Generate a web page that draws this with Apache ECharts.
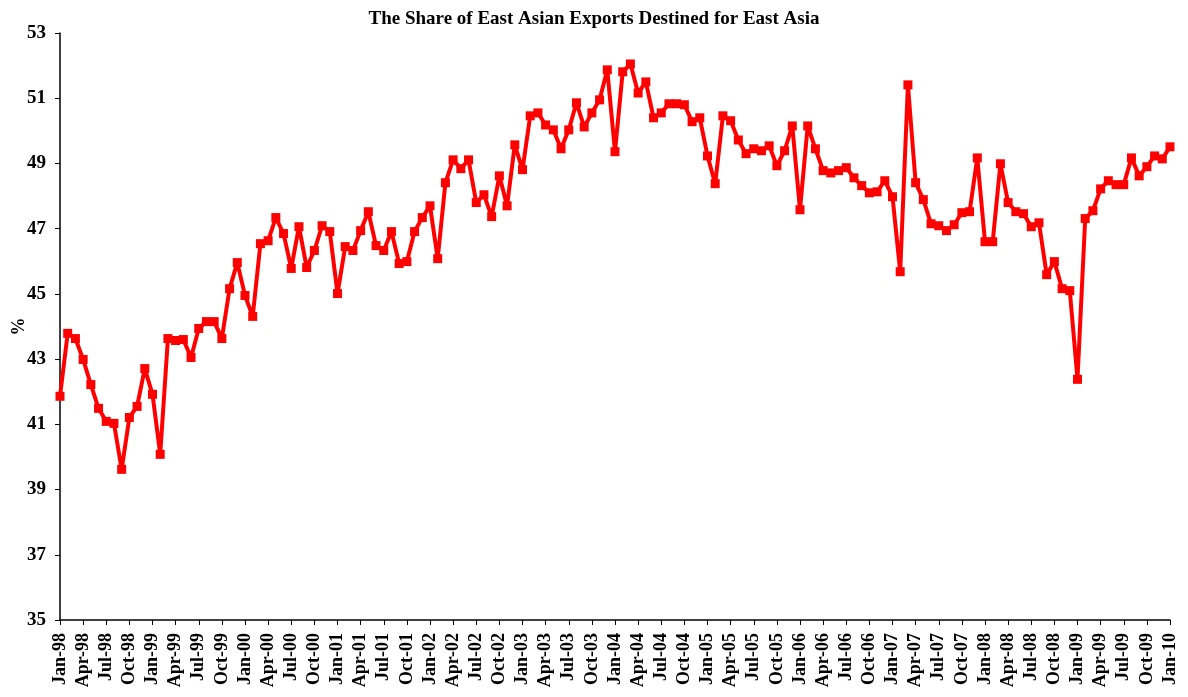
<!DOCTYPE html>
<html>
<head>
<meta charset="utf-8">
<script src="https://cdn.jsdelivr.net/npm/echarts@6/dist/echarts.min.js"></script>
<style>
  html, body { margin: 0; padding: 0; background: #fff; }
  #chart { width: 1188px; height: 697px; }
</style>
</head>
<body>
<div id="chart"></div>
<script>
// monthly values, Jan-98 .. Jan-10 (share in %)
var months = ['Jan','Feb','Mar','Apr','May','Jun','Jul','Aug','Sep','Oct','Nov','Dec'];
var startYear = 1998;

var v1998 = [41.86, 43.79, 43.63, 42.99, 42.22, 41.49, 41.09, 41.03, 39.62, 41.21, 41.55, 42.71];
var v1999 = [41.92, 40.08, 43.63, 43.57, 43.60, 43.05, 43.94, 44.15, 44.15, 43.63, 45.16, 45.96];
var v2000 = [44.95, 44.31, 46.54, 46.63, 47.34, 46.85, 45.78, 47.06, 45.81, 46.33, 47.09, 46.91];
var v2001 = [45.01, 46.45, 46.33, 46.94, 47.52, 46.48, 46.33, 46.91, 45.93, 45.99, 46.91, 47.34];
var v2002 = [47.70, 46.08, 48.41, 49.11, 48.84, 49.11, 47.80, 48.04, 47.37, 48.62, 47.70, 49.57];
var v2003 = [48.81, 50.46, 50.55, 50.18, 50.03, 49.45, 50.03, 50.86, 50.12, 50.55, 50.95, 51.87];
var v2004 = [49.36, 51.81, 52.05, 51.16, 51.50, 50.40, 50.55, 50.83, 50.83, 50.80, 50.28, 50.40];
var v2005 = [49.23, 48.38, 50.46, 50.31, 49.72, 49.30, 49.45, 49.39, 49.54, 48.93, 49.39, 50.15];
var v2006 = [47.58, 50.15, 49.45, 48.78, 48.71, 48.78, 48.87, 48.56, 48.32, 48.10, 48.13, 48.47];
var v2007 = [47.98, 45.68, 51.41, 48.41, 47.89, 47.15, 47.09, 46.94, 47.12, 47.49, 47.52, 49.17];
var v2008 = [46.60, 46.60, 48.99, 47.80, 47.52, 47.46, 47.06, 47.18, 45.59, 45.99, 45.16, 45.10];
var v2009 = [42.38, 47.31, 47.55, 48.22, 48.47, 48.35, 48.35, 49.17, 48.62, 48.90, 49.23, 49.14];
var v2010 = [49.51];

var values = [].concat(v1998, v1999, v2000, v2001, v2002, v2003, v2004,
                       v2005, v2006, v2007, v2008, v2009, v2010);

var categories = [];
for (var i = 0; i < values.length; i++) {
    var y = startYear + Math.floor(i / 12);
    categories.push(months[i % 12] + '-' + String(y).slice(2));
}

var serif = '"Liberation Serif", "DejaVu Serif", serif';
var chart = echarts.init(document.getElementById('chart'));
var option = {
    backgroundColor: '#fff',
    animation: false,
    title: {
        text: 'The Share of East Asian Exports Destined for East Asia',
        left: 'center',
        top: 5,
        textStyle: { fontFamily: serif, fontSize: 19, fontWeight: 'bold', color: '#000' }
    },
    grid: { left: 60, right: 18, top: 33, bottom: 77, containLabel: false, outerBoundsMode: 'none' },
    xAxis: {
        type: 'category',
        data: categories,
        boundaryGap: false,
        axisLine: { lineStyle: { color: '#000', width: 1.5 } },
        axisTick: { interval: 2, length: 5, lineStyle: { color: '#000' } },
        axisLabel: {
            interval: 2,
            rotate: 90,
            margin: 13,
            fontFamily: serif,
            fontSize: 18,
            fontWeight: 'bold',
            color: '#000'
        },
        splitLine: { show: false }
    },
    yAxis: {
        type: 'value',
        min: 35,
        max: 53,
        interval: 2,
        name: '%',
        nameLocation: 'middle',
        nameGap: 32,
        nameMoveOverlap: false,
        nameTextStyle: { fontFamily: serif, fontSize: 18, fontWeight: 'bold', color: '#000' },
        axisLine: { show: true, lineStyle: { color: '#000', width: 1.5 } },
        axisTick: { show: true, length: 5, lineStyle: { color: '#000' } },
        axisLabel: { margin: 14, fontFamily: serif, fontSize: 19, fontWeight: 'bold', color: '#000' },
        splitLine: { show: false }
    },
    series: [{
        type: 'line',
        data: values,
        symbol: 'rect',
        symbolSize: 9,
        showAllSymbol: true,
        lineStyle: { color: '#ff0000', width: 4 },
        itemStyle: { color: '#ff0000' }
    }]
};
chart.setOption(option);
</script>
</body>
</html>
